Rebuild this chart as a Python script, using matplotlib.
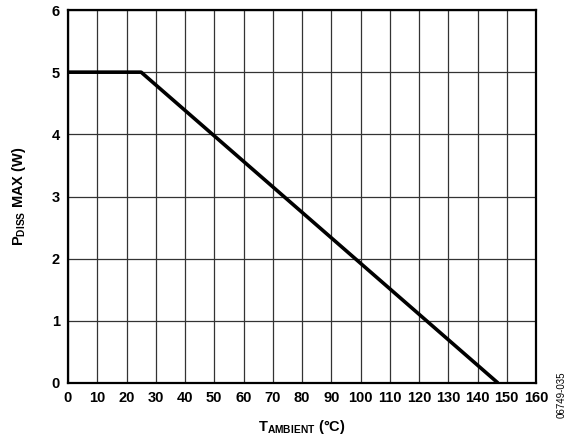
import matplotlib
matplotlib.use("Agg")
import matplotlib.pyplot as plt
import numpy as np

# Data
temp_c = [0, 25, 147]
pdiss_w = [5, 5, 0]
x_ticks = list(range(0, 161, 10))
y_ticks = list(range(0, 7, 1))

plt.rcParams['font.family'] = ['Liberation Sans', 'DejaVu Sans']
plt.rcParams['font.weight'] = 'bold'
plt.rcParams['mathtext.fontset'] = 'custom'
plt.rcParams['mathtext.rm'] = 'Liberation Sans:bold'
plt.rcParams['mathtext.bf'] = 'Liberation Sans:bold'
plt.rcParams['mathtext.it'] = 'Liberation Sans:bold'

fig = plt.figure(figsize=(5.70, 4.42), dpi=100)
ax = fig.add_axes([68/570, 1-383/442, (536-68)/570, (383-10)/442])

ax.plot(temp_c, pdiss_w, color='black', lw=2.6, solid_capstyle='butt', zorder=3)

ax.set_xlim(0, 160)
ax.set_ylim(0, 6)
ax.set_xticks(x_ticks)
ax.set_yticks(y_ticks)
ax.grid(True, color='#333333', lw=0.9)
ax.tick_params(length=0, labelsize=10.5, pad=6)
for lab in ax.get_xticklabels() + ax.get_yticklabels():
    lab.set_fontweight('bold')
for s in ax.spines.values():
    s.set_linewidth(1.6)
    s.set_color('black')

ax.set_xlabel(r'$\mathrm{T_{AMBIENT}}$ (°C)', fontsize=10.5, fontweight='bold', labelpad=9)
ax.set_ylabel(r'$\mathrm{P_{DISS}}$ MAX (W)', fontsize=10.5, fontweight='bold', labelpad=17)

fig.text(562/570, 1-395/442, '06749-035', rotation=90, fontsize=7, fontweight='normal',
         ha='center', va='center')

fig.savefig('out.png', dpi=100)
